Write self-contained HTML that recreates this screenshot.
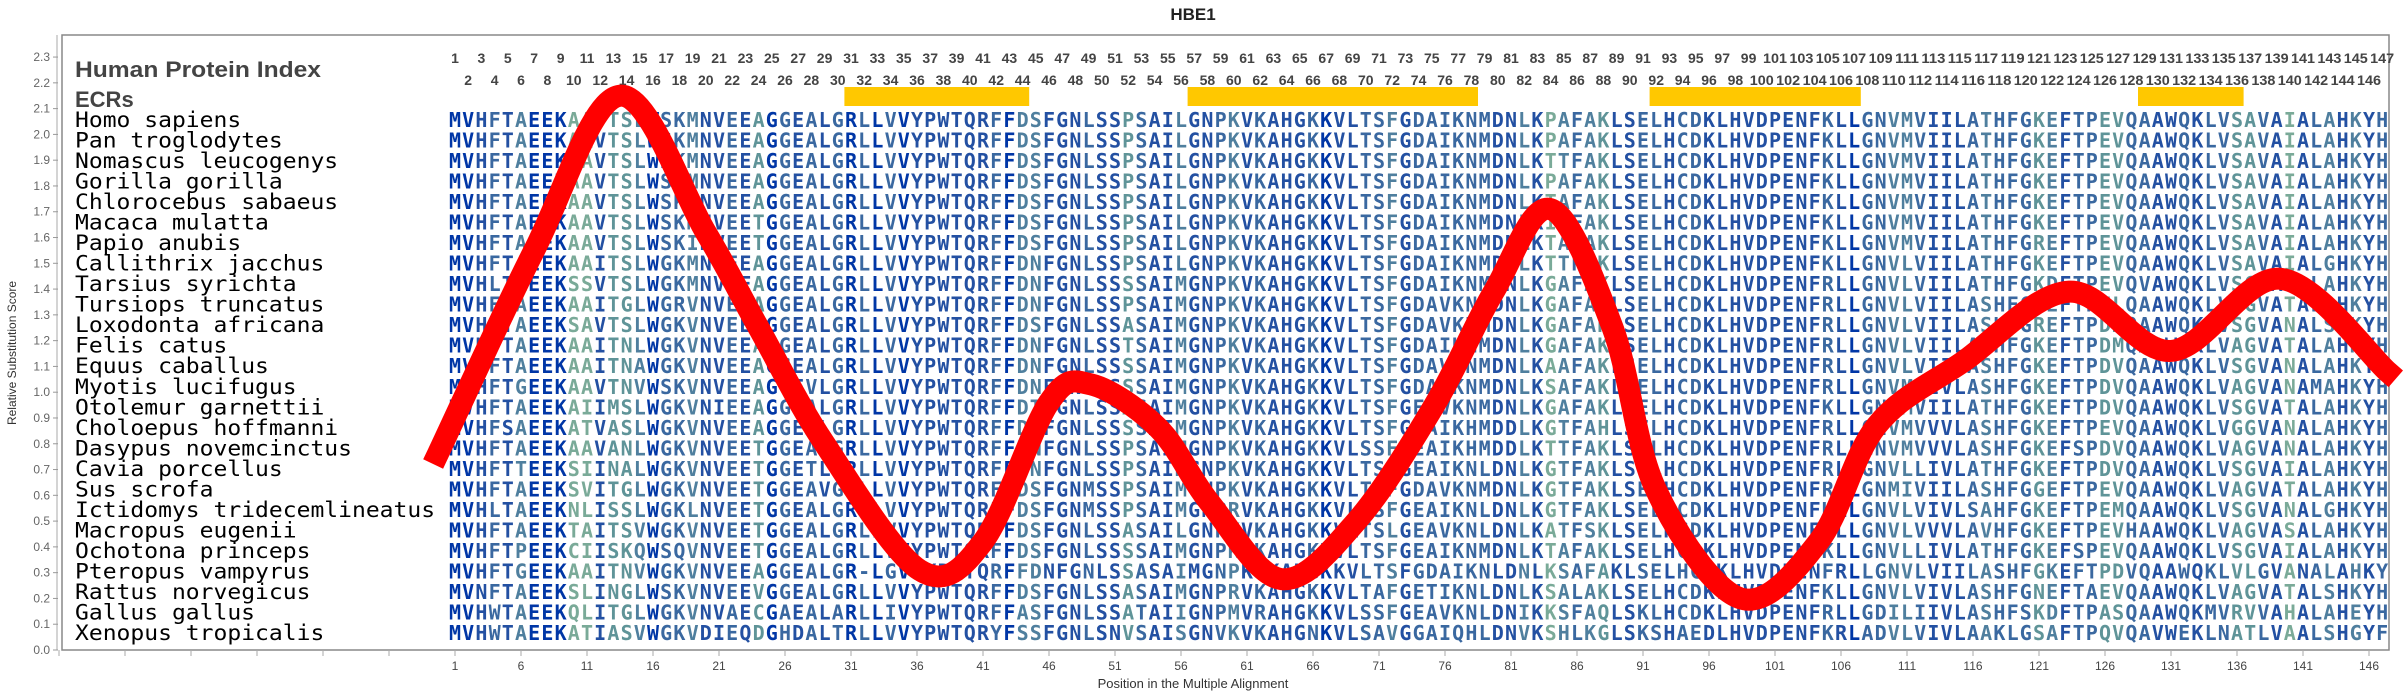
<!DOCTYPE html>
<html><head><meta charset="utf-8"><title>HBE1</title>
<style>
html,body{margin:0;padding:0;background:#fff;}
svg{display:block;}
</style></head>
<body>
<svg id="chart" xmlns="http://www.w3.org/2000/svg" width="2405" height="700" viewBox="0 0 2405 700">
<text x="1193" y="20" text-anchor="middle" font-family="Liberation Sans, sans-serif" font-weight="bold" font-size="17" fill="#222">HBE1</text>
<line x1="57" y1="35" x2="57" y2="650" stroke="#aaa" stroke-width="1"/>
<rect x="62" y="35" width="2327" height="615" fill="none" stroke="#888" stroke-width="1.5"/>
<text transform="translate(16,353) rotate(-90)" text-anchor="middle" font-family="Liberation Sans, sans-serif" font-size="12" fill="#333">Relative Substitution Score</text>
<text x="1193" y="688" text-anchor="middle" font-family="Liberation Sans, sans-serif" font-size="13" fill="#333">Position in the Multiple Alignment</text>
<text x="75" y="77" font-family="Liberation Sans, sans-serif" font-weight="bold" font-size="22" fill="#444" textLength="246" lengthAdjust="spacingAndGlyphs">Human Protein Index</text>
<text x="75" y="107" font-family="Liberation Sans, sans-serif" font-weight="bold" font-size="22" fill="#444">ECRs</text>
<g id="yaxis"></g><g id="xaxis"></g><g id="nums"></g><g id="ecr"></g><g id="names"></g><g id="seqs"></g><g id="curve"></g>
</svg>
<script>
const species=["Homo sapiens","Pan troglodytes","Nomascus leucogenys","Gorilla gorilla","Chlorocebus sabaeus","Macaca mulatta","Papio anubis","Callithrix jacchus","Tarsius syrichta","Tursiops truncatus","Loxodonta africana","Felis catus","Equus caballus","Myotis lucifugus","Otolemur garnettii","Choloepus hoffmanni","Dasypus novemcinctus","Cavia porcellus","Sus scrofa","Ictidomys tridecemlineatus","Macropus eugenii","Ochotona princeps","Pteropus vampyrus","Rattus norvegicus","Gallus gallus","Xenopus tropicalis"];
const sequences=[
"MVHFTAEEKAAVTSLWSKMNVEEAGGEALGRLLVVYPWTQRFFDSFGNLSSPSAILGNPKVKAHGKKVLTSFGDAIKNMDNLKPAFAKLSELHCDKLHVDPENFKLLGNVMVIILATHFGKEFTPEVQAAWQKLVSAVAIALAHKYH",
"MVHFTAEEKAAVTSLWSKMNVEEAGGEALGRLLVVYPWTQRFFDSFGNLSSPSAILGNPKVKAHGKKVLTSFGDAIKNMDNLKPAFAKLSELHCDKLHVDPENFKLLGNVMVIILATHFGKEFTPEVQAAWQKLVSAVAIALAHKYH",
"MVHFTAEEKAAVTSLWNKMNVEEAGGEALGRLLVVYPWTQRFFDSFGNLSSPSAILGNPKVKAHGKKVLTSFGDAIKNMDNLKTTFAKLSELHCDKLHVDPENFKLLGNVMVIILATHFGKEFTPEVQAAWQKLVSAVAIALAHKYH",
"MVHFTAEEKAAVTSLWSKMNVEEAGGEALGRLLVVYPWTQRFFDSFGNLSSPSAILGNPKVKAHGKKVLTSFGDAIKNMDNLKPAFAKLSELHCDKLHVDPENFKLLGNVMVIILATHFGKEFTPEVQAAWQKLVSAVAIALAHKYH",
"MVHFTAEEKAAVTSLWSKMNVEEAGGEALGRLLVVYPWTQRFFDSFGNLSSPSAILGNPKVKAHGKKVLTSFGDAIKNMDNLKTAFAKLSELHCDKLHVDPENFKLLGNVMVIILATHFGKEFTPEVQAAWQKLVSAVAIALAHKYH",
"MVHFTAEEKAAVTSLWSKMNVEETGGEALGRLLVVYPWTQRFFDSFGNLSSPSAILGNPKVKAHGKKVLTSFGDAIKNMDNLKITFAKLSELHCDKLHVDPENFKLLGNVMVIILATHFGKEFTPEVQAAWQKLVSAVAIALAHKYH",
"MVHFTAEEKAAVTSLWSKINVEETGGEALGRLLVVYPWTQRFFDSFGNLSSPSAILGNPKVKAHGKKVLTSFGDAIKNMDNLKTAFAKLSELHCDKLHVDPENFKLLGNVMVIILATHFGREFTPEVQAAWQKLVSAVAIALAHKYH",
"MVHFTAEEKAAITSLWGKMNVEEAGGEALGRLLVVYPWTQRFFDNFGNLSSPSAILGNPKVKAHGKKVLTSFGDAIKNMDNLKTTFAKLSELHCDKLHVDPENFKLLGNVLVIILATHFGKEFTPEVQAAWQKLVSAVAIALGHKYH",
"MVHLTAEEKSSVTSLWGKMNVDEAGGEALGRLLVVYPWTQRFFDNFGNLSSSSAIMGNPKVKAHGKKVLTSFGDAIKNMDNLKGAFAKLSELHCDKLHVDPENFRLLGNVLVIILATHFGKDFTPEVQVAWQKLVSGVAIALAHKYH",
"MVHFTAEEKAAITGLWGRVNVEEAGGEALGRLLVVYPWTQRFFDNFGNLSSPSAIMGNPKVKAHGKKVLTSFGDAVKNMDNLKGAFAKLSELHCDKLHVDPENFRLLGNVLVIILASHFGREFTPELQAAWQKLVAGVATALAHKYH",
"MVHFTAEEKSAVTSLWGKVNVEEAGGEALGRLLVVYPWTQRFFDSFGNLSSASAIMGNPKVKAHGKKVLTSFGDAVKNMDNLKGAFAKLSELHCDKLHVDPENFRLLGNVLVIILASHFGREFTPDMQAAWQKLVSGVANALSHKYH",
"MVHFTAEEKAAITNLWGKVNVEEAGGEALGRLLVVYPWTQRFFDNFGNLSSTSAIMGNPKVKAHGKKVLTSFGDAIKNMDNLKGAFAKLSELHCDKLHVDPENFRLLGNVLVIILASHFGKEFTPDMQAAWQKLVAGVATALAHKYH",
"MVHFTAEEKAAITNAWGKVNVEEAGGEALGRLLVVYPWTQRFFDNFGNLSSSSAIMGNPKVKAHGKKVLTSFGDAVKNMDNLKAAFAKLSELHCDKLHVDPENFRLLGNVLVIILASHFGKEFTPDVQAAWQKLVSGVANALAHKYH",
"MVHFTGEEKAAVTNVWSKVNVEEAGGEVLGRLLVVYPWTQRFFDNFGNLSSSSAIMGNPKVKAHGKKVLTSFGDAIKNMDNLKSAFAKLSELHCDKLHVDPENFRLLGNVMVIVLASHFGKEFTPDVQAAWQKLVAGVANAMAHKYH",
"MVHFTAEEKAIIMSLWGKVNIEEAGGEALGRLLVVYPWTQRFFDTFGNLSSASAIMGNPKVKAHGKKVLTSFGEAVKNMDNLKGAFAKLSELHCDKLHVDPENFKLLGNVMVIILATHFGKEFTPDVQAAWQKLVSGVATALAHKYH",
"MVHFSAEEKATVASLWGKVNVEEAGGEALGRLLVVYPWTQRFFDNFGNLSSSSAIMGNPKVKAHGKKVLTSFGDAIKHMDDLKGTFAHLSELHCDKLHVDPENFRLLGNVMVVVLASHFGKEFTPEVQAAWQKLVGGVANALAHKYH",
"MVHFTAEEKAAVANLWGKVNVEETGGEALGRLLVVYPWTQRFFDNFGNLSSPSAIMGNPKVKAHGKKVLSSFGEAIKHMDDLKTTFAKLSELHCDKLHVDPENFRLLGNVMVVVLASHFGKEFSPDVQAAWQKLVAGVANALAHKYH",
"MVHFTTEEKSIINALWGKVNVEETGGETLGRLLVVYPWTQRFFDNFGNLSSPSAIMGNPKVKAHGKKVLTSFGEAIKNLDNLKGTFAKLSELHCDKLHVDPENFRLLGNVLLIVLATHFGKEFTPDVQAAWQKLVSGVAIALAHKYH",
"MVHFTAEEKSVITGLWGKVNVEETGGEAVGRLLVVYPWTQRFFDSFGNMSSPSAIMGNPKVKAHGKKVLTSFGDAVKNMDNLKGTFAKLSELHCDKLHVDPENFRLLGNMIVIILASHFGGEFTPEVQAAWQKLVAGVATALAHKYH",
"MVHLTAEEKNLISSLWGKLNVEETGGEALGRVLVVYPWTQRFFDSFGNMSSPSAIMGNPRVKAHGKKVLTSFGEAIKNLDNLKGTFAKLSELHCDKLHVDPENFKLLGNVLVIVLSAHFGKEFTPEMQAAWQKLVSGVANALGHKYH",
"MVHFTAEEKTAITSVWGKVNVEETGGEALGRLLVVYPWTQRFFDSFGNLSSASAILGNPKVKAHGKKVLTSLGEAVKNLDNLKATFSKLSELHCDKLHVDPENFRLLGNVLVVVLAVHFGKEFTPEVHAAWQKLVAGVASALAHKYH",
"MVHFTPEEKCIISKQWSQVNVEETGGEALGRLLVVYPWTQRFFDSFGNLSSSSAIMGNPKVKAHGKKVLTSFGEAIKNMDNLKTAFAKLSELHCDKLHVDPENFKLLGNVLLIVLATHFGKEFSPEVQAAWQKLVSGVAIALAHKYH",
"MVHFTGEEKAAITNVWGKVNVEEAGGEALGR-LGVVYPWTQRFFDNFGNLSSASAIMGNPKVKAHGKKVLTSFGDAIKNLDNLKSAFAKLSELHCDKLHVDPENFRLLGNVLVIILASHFGKEFTPDVQAAWQKLVLGVANALAHKYH",
"MVNFTAEEKSLINGLWSKVNVEEVGGEALGRLLVVYPWTQRFFDSFGNLSSASAIMGNPRVKAHGKKVLTAFGETIKNLDNLKSALAKLSELHCDKLHVDPENFKLLGNVLVIVLASHFGNEFTAEVQAAWQKLVAGVATALSHKYH",
"MVHWTAEEKQLITGLWGKVNVAECGAEALARLLIVYPWTQRFFASFGNLSSATAIIGNPMVRAHGKKVLSSFGEAVKNLDNIKKSFAQLSKLHCDKLHVDPENFRLLGDILIIVLASHFSKDFTPASQAAWQKMVRVVAHALAHEYH",
"MVHWTAEEKATIASVWGKVDIEQDGHDALTRLLVVYPWTQRYFSSFGNLSNVSAISGNVKVKAHGNKVLSAVGGAIQHLDNVKSHLKGLSKSHAEDLHVDPENFKRLADVLVIVLAAKLGSAFTPQVQAVWEKLNATLVAALSHGYF"];
// red curve: alignment position -> relative substitution score
const curvePos=[-0.3,7,13.5,20,24,29,36.2,41,46,49.2,54.3,58.2,63.6,69.3,75.2,79.7,84,88.7,92,98.4,104.3,108.7,115.3,123.3,131,139.3,147.4];
const curveVal=[0.76,1.55,2.15,1.62,1.25,0.8,0.31,0.42,0.96,1.03,0.86,0.57,0.275,0.5,0.95,1.39,1.71,1.25,0.62,0.2,0.42,0.87,1.12,1.39,1.16,1.44,1.08];
const ecrStart=[31,57,92,129];
const ecrEnd=[44,78,107,136];
const yTicks=[0.0,0.1,0.2,0.3,0.4,0.5,0.6,0.7,0.8,0.9,1.0,1.1,1.2,1.3,1.4,1.5,1.6,1.7,1.8,1.9,2.0,2.1,2.2,2.3];

const NS="http://www.w3.org/2000/svg";
const xPos=p=>455+(p-1)*13.2;
const yVal=v=>650-v*257.8;
const rowY=i=>127+i*(513/(species.length-1));
function mk(tag,attrs,parent,txt){const e=document.createElementNS(NS,tag);for(const k in attrs)e.setAttribute(k,attrs[k]);if(txt!==undefined)e.textContent=txt;parent.appendChild(e);return e;}
const F="Liberation Sans, sans-serif";

const ya=document.getElementById('yaxis');
yTicks.forEach(v=>{
  const t=mk('line',{x1:53,x2:58,y1:yVal(v),y2:yVal(v),stroke:'#999'},ya);
  
  
  const l=mk('text',{x:50,y:yVal(v)+4,'text-anchor':'end','font-family':F,'font-size':12,fill:'#666'},ya,v.toFixed(1));
  
  
});
const xa=document.getElementById('xaxis');
for(let p=-29;p<=146;p+=5){
  const x=xPos(p);
  const t=mk('line',{x1:x,x2:x,y1:650,y2:656,stroke:'#aaa'},xa);
  
  
  if(p>=1){
    const l=mk('text',{x:x,y:670,'text-anchor':'middle','font-family':F,'font-size':12,fill:'#444'},xa,String(p));
    
    
  }
}
const nums=document.getElementById('nums');
for(let p=1;p<=147;p++){
  const odd=p%2===1;
  const a={x:xPos(p),y:odd?63:85,'text-anchor':'middle','font-family':F,'font-weight':'bold','font-size':14,fill:'#444'};
  if(p>=100){a.textLength=24;a.lengthAdjust='spacingAndGlyphs';}
  const t=mk('text',a,nums,String(p));
  
  
}
const eg=document.getElementById('ecr');
ecrStart.forEach((s,i)=>{
  const r=mk('rect',{x:xPos(s)-6.6,y:87,width:xPos(ecrEnd[i])-xPos(s)+13.2,height:19,fill:'#ffc800'},eg);
  
  
});
const ng=document.getElementById('names');
species.forEach((s,i)=>{
  const t=mk('text',{x:75,y:rowY(i),'font-family':'DejaVu Sans Mono, Liberation Mono, monospace','font-size':21,fill:'#000',textLength:s.length*13.85,lengthAdjust:'spacingAndGlyphs'},ng,s);
  
  
});
const L=147;
const colors=['#0036a6','#0036a6','#2350a2','#3a68a0','#4f7f9e','#5f9498','#7aaa98'];
const colCol=[];
for(let c=0;c<L;c++){
  const set=new Set();
  sequences.forEach(s=>{if(s[c])set.add(s[c]);});
  colCol.push(colors[Math.min(set.size,6)]);
}
const sg=document.getElementById('seqs');
sequences.forEach((s,i)=>{
  const g=mk('text',{y:rowY(i),'font-family':'DejaVu Sans Mono, Liberation Mono, monospace','font-weight':'bold','font-size':20,'text-anchor':'middle'},sg);
  
  
  for(let c=0;c<Math.min(L,s.length);c++){
    mk('tspan',{x:xPos(c+1),fill:colCol[c]},g,s[c]);
  }
});
const pts=curvePos.map((p,i)=>[xPos(p),yVal(curveVal[i])]);
let d='M'+pts[0][0]+','+pts[0][1];
for(let i=0;i<pts.length-1;i++){
  const p0=pts[Math.max(0,i-1)],p1=pts[i],p2=pts[i+1],p3=pts[Math.min(pts.length-1,i+2)];
  const c1=[p1[0]+(p2[0]-p0[0])/6,p1[1]+(p2[1]-p0[1])/6];
  const c2=[p2[0]-(p3[0]-p1[0])/6,p2[1]-(p3[1]-p1[1])/6];
  d+=' C'+c1[0]+','+c1[1]+' '+c2[0]+','+c2[1]+' '+p2[0]+','+p2[1];
}
const path=mk('path',{d:d,fill:'none',stroke:'#ff0000','stroke-width':22,'stroke-linejoin':'round','stroke-linecap':'square'},document.getElementById('curve'));


</script>
</body></html>
